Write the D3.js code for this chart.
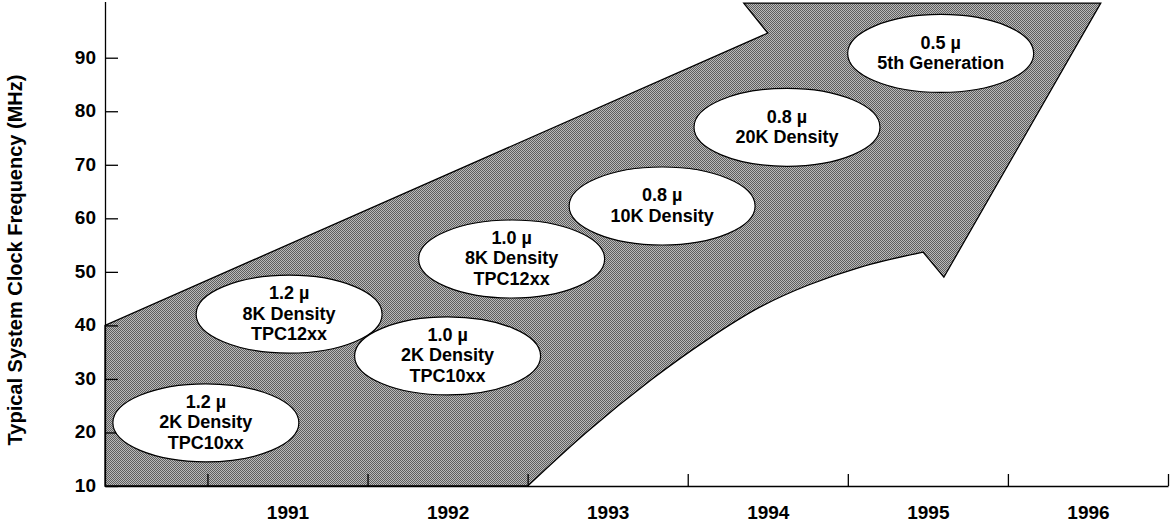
<!DOCTYPE html>
<html>
<head>
<meta charset="utf-8">
<script src="https://cdn.jsdelivr.net/npm/d3@7"></script>
<style>
  body { margin: 0; background: #fff; }
  text { font-family: "Liberation Sans", Arial, Helvetica, sans-serif; font-weight: bold; }
</style>
</head>
<body>
<script>
var width = 1171;
var height = 529;

// year labels (each label sits in the middle of its year) and the year boundaries
var years = [1991, 1992, 1993, 1994, 1995, 1996];
var yearBounds = [1991, 1992, 1993, 1994, 1995, 1996, 1997];
var yTicks = [10, 20, 30, 40, 50, 60, 70, 80, 90];

// arrow outline as [year, MHz]
var arrowStraight = [
  [1990.36, 10], [1990.36, 40], [1994.5, 94.6], [1994.35, 100.2],
  [1996.58, 100.2], [1995.6, 49.0], [1995.47, 53.7]
];
var arrowCurve = [
  [1995.47, 53.7], [1995.08, 50.9], [1994.75, 47.5], [1994.45, 43.4],
  [1994.12, 37.3], [1993.77, 29.8], [1993.37, 20.1], [1993.0, 10]
];

// technology generations: [year, MHz] and their text
var genYear = [1990.99, 1991.51, 1992.5, 1992.9, 1993.84, 1994.62, 1995.58];
var genMHz = [21.8, 42.1, 34.3, 52.4, 62.3, 77.0, 90.8];
var genText = [
  ["1.2 \u00b5", "2K Density", "TPC10xx"],
  ["1.2 \u00b5", "8K Density", "TPC12xx"],
  ["1.0 \u00b5", "2K Density", "TPC10xx"],
  ["1.0 \u00b5", "8K Density", "TPC12xx"],
  ["0.8 \u00b5", "10K Density"],
  ["0.8 \u00b5", "20K Density"],
  ["0.5 \u00b5", "5th Generation"]
];

var xScale = d3.scaleLinear().domain([1990.36, 1997]).range([105, 1168]);
var yScale = d3.scaleLinear().domain([10, 100.5]).range([486, 1.5]);

var svg = d3.select("body").append("svg")
  .attr("width", width)
  .attr("height", height);

// halftone-ish fill
var pat = svg.append("defs").append("pattern")
  .attr("id", "halftone")
  .attr("patternUnits", "userSpaceOnUse")
  .attr("width", 2).attr("height", 2);
pat.append("rect").attr("width", 2).attr("height", 2).attr("fill", "#bababa");
pat.append("rect").attr("x", 0).attr("y", 0).attr("width", 1).attr("height", 1).attr("fill", "#5e5e5e");
pat.append("rect").attr("x", 1).attr("y", 1).attr("width", 1).attr("height", 1).attr("fill", "#5e5e5e");

// arrow
var straightLine = d3.line()
  .x(function(d) { return xScale(d[0]); })
  .y(function(d) { return yScale(d[1]); });
var curveLine = d3.line()
  .x(function(d) { return xScale(d[0]); })
  .y(function(d) { return yScale(d[1]); })
  .curve(d3.curveCatmullRom.alpha(0.5));

var arrowPath = straightLine(arrowStraight) + curveLine(arrowCurve).replace(/^M/, "L") + "Z";
svg.append("path")
  .attr("d", arrowPath)
  .attr("fill", "url(#halftone)")
  .attr("stroke", "#000")
  .attr("stroke-width", 1.3)
  .attr("stroke-linejoin", "miter");

// y axis
var yAxis = d3.axisLeft(yScale)
  .tickValues(yTicks)
  .tickSizeInner(-13)
  .tickSizeOuter(0)
  .tickPadding(9);
var gy = svg.append("g")
  .attr("transform", "translate(105,0)")
  .call(yAxis);
gy.selectAll("text").attr("font-size", "19px").attr("fill", "#000").attr("dy", "0.28em");

// x axis: boundary ticks
var xAxis = d3.axisBottom(xScale)
  .tickValues(yearBounds)
  .tickSizeInner(-12)
  .tickSizeOuter(0)
  .tickFormat("");
svg.append("g")
  .attr("transform", "translate(0,486)")
  .call(xAxis);

// x axis: year labels centred in each year
var xLabels = d3.axisBottom(xScale)
  .tickValues(years.map(function(d) { return d + 0.5; }))
  .tickSize(0)
  .tickPadding(20)
  .tickFormat(function(d) { return Math.floor(d); });
var gx = svg.append("g")
  .attr("transform", "translate(0,486)")
  .call(xLabels);
gx.select(".domain").remove();
gx.selectAll("text").attr("font-size", "19px").attr("fill", "#000");

svg.selectAll(".domain, .tick line")
  .attr("stroke", "#000")
  .attr("stroke-width", 1.3);

// y title
svg.append("text")
  .attr("transform", "translate(22,260) rotate(-90)")
  .attr("text-anchor", "middle")
  .attr("font-size", "20px")
  .text("Typical System Clock Frequency (MHz)");

// generation bubbles
var gens = svg.selectAll("g.gen")
  .data(genText)
  .enter()
  .append("g")
  .attr("class", "gen")
  .attr("transform", function(d, i) {
    return "translate(" + xScale(genYear[i]) + "," + yScale(genMHz[i]) + ")";
  });

gens.append("ellipse")
  .attr("rx", 93)
  .attr("ry", 39)
  .attr("fill", "#fff")
  .attr("stroke", "#000")
  .attr("stroke-width", 1.2);

// one text block per bubble, lines as tspans
var fs = 18, lh = 20.3;
gens.append("text")
  .attr("text-anchor", "middle")
  .attr("font-size", fs + "px")
  .each(function(lines) {
    var t = d3.select(this);
    lines.forEach(function(s, j) {
      var c = (j - (lines.length - 1) / 2) * lh - 1;
      t.append("tspan")
        .attr("x", 0)
        .attr("y", c + fs * 0.36)
        .text(s);
    });
  });
</script>
</body>
</html>
